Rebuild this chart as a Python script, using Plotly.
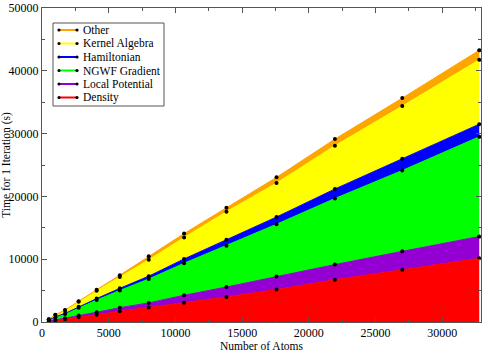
import plotly.graph_objects as go

atoms = [512, 1000, 1728, 2744, 4096, 5832, 8000, 10648, 13824, 17576, 21952, 27000, 32768]

density = [100, 260, 430, 760, 1150, 1700, 2320, 3050, 3990, 5160, 6730, 8310, 10140]
local_potential = [35, 90, 150, 260, 400, 580, 720, 1210, 1580, 2100, 2420, 2940, 3470]
ngwf_gradient = [165, 420, 700, 1250, 1950, 2750, 3810, 5100, 6580, 8310, 10520, 12880, 15890]
hamiltonian = [22, 55, 90, 150, 230, 330, 450, 680, 940, 1150, 1510, 1850, 2000]
kernel_algebra = [110, 280, 460, 790, 1250, 1800, 2600, 3420, 4470, 5410, 6900, 8400, 10250]
other = [18, 45, 70, 110, 170, 300, 550, 630, 630, 900, 1050, 1270, 1520]

series_names = ["Density", "Local Potential", "NGWF Gradient", "Hamiltonian", "Kernel Algebra", "Other"]
series_values = [density, local_potential, ngwf_gradient, hamiltonian, kernel_algebra, other]
colors = ["#ff0000", "#9400d3", "#00ff00", "#0000ff", "#ffff00", "#ffa500"]

x_ticks = [0, 5000, 10000, 15000, 20000, 25000, 30000]
y_ticks = [0, 10000, 20000, 30000, 40000, 50000]

W, H = 482, 352
ML, MR, MT, MB = 42, 1, 8, 30
PW, PH = W - ML - MR, H - MT - MB


def px(x):
    return (x - ML) / PW


def py(y):
    return (H - MB - y) / PH


fig = go.Figure()
for name, vals, col in zip(series_names, series_values, colors):
    fig.add_trace(go.Scatter(
        x=atoms, y=vals, name=name, mode="lines+markers",
        stackgroup="one", fillcolor=col,
        line=dict(color=col, width=1),
        marker=dict(color="black", size=4),
        showlegend=False,
    ))

FAM = "Liberation Serif"
font = dict(family=FAM, size=12, color="black")
small = dict(family=FAM, size=11.5, color="black")

# manual legend (box + line samples + labels), top entry first
shapes = [dict(type="rect", xref="paper", yref="paper",
               x0=px(53), x1=px(164), y0=py(106), y1=py(23),
               line=dict(color="#555555", width=1), fillcolor="white", layer="above")]
annotations = []
legend_rows = [30, 43.5, 57, 70.5, 84, 97.5]
for row_y, name, col in zip(legend_rows, series_names[::-1], colors[::-1]):
    shapes.append(dict(type="line", xref="paper", yref="paper",
                       x0=px(59), x1=px(77), y0=py(row_y), y1=py(row_y),
                       line=dict(color=col, width=2), layer="above"))
    for cx in (59, 77):
        shapes.append(dict(type="circle", xref="paper", yref="paper",
                           x0=px(cx - 1.6), x1=px(cx + 1.6), y0=py(row_y + 1.6), y1=py(row_y - 1.6),
                           line=dict(color="black", width=0), fillcolor="black", layer="above"))
    annotations.append(dict(text=name, xref="paper", yref="paper", x=px(81), y=py(row_y),
                            xanchor="left", yanchor="middle", showarrow=False, font=small))

axis_common = dict(
    showline=True, linecolor="#555555", linewidth=1, mirror="allticks",
    ticks="inside", ticklen=5, tickcolor="#555555", showgrid=False, zeroline=False,
    tickfont=font, tickformat="d", automargin=False, ticklabeloverflow="allow",
)
fig.update_layout(
    width=W, height=H,
    margin=dict(l=ML, r=MR, t=MT, b=MB),
    paper_bgcolor="white", plot_bgcolor="white",
    font=font,
    showlegend=False,
    shapes=shapes,
    annotations=annotations,
    xaxis=dict(range=[0, 32900], tickvals=x_ticks,
               minor=dict(dtick=2500, ticks="inside", ticklen=3, tickcolor="#555555"),
               title=dict(text="Number of Atoms", font=small, standoff=0),
               **axis_common),
    yaxis=dict(range=[0, 50000], tickvals=y_ticks,
               minor=dict(dtick=5000, ticks="inside", ticklen=3, tickcolor="#555555"),
               title=dict(text="Time for 1 Iteration (s)", font=small, standoff=2),
               **axis_common),
)
fig.write_html("out.html")
